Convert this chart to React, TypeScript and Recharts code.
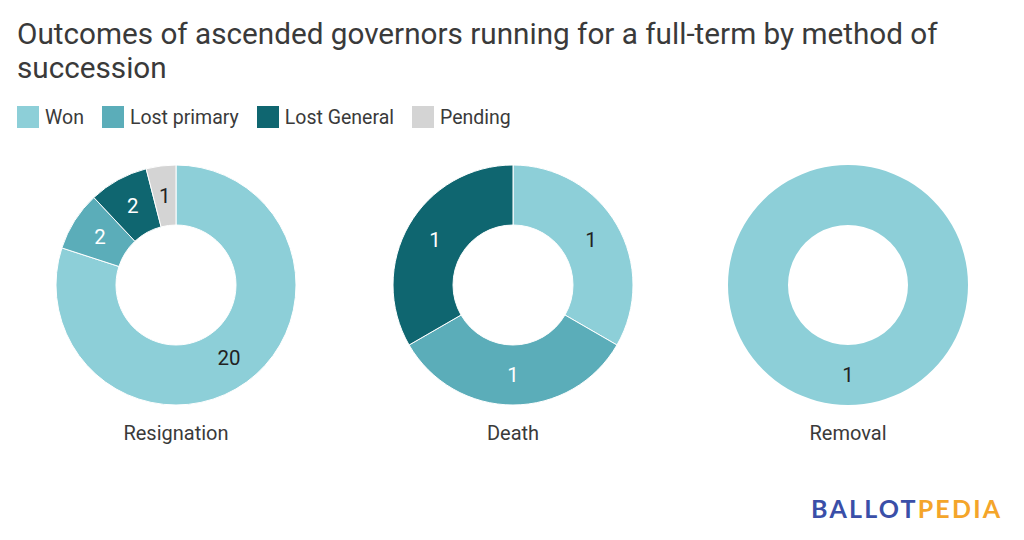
import React from 'react';
import { PieChart, Pie, Cell } from 'recharts';

const categories = ['Won', 'Lost primary', 'Lost General', 'Pending'];
const colors = ['#8dcfd8', '#5badb9', '#0f6670', '#d4d4d4'];
const labelColors = ['#222222', '#ffffff', '#ffffff', '#222222'];

const groups = ['Resignation', 'Death', 'Removal'];
const resignationValues = [20, 2, 2, 1];
const deathValues = [1, 1, 1, 0];
const removalValues = [1, 0, 0, 0];
const groupValues = [resignationValues, deathValues, removalValues];

const centersX = [176, 513, 848];
const centerY = 285;

const RADIAN = Math.PI / 180;

const buildData = (values: number[]) =>
  categories
    .map((name, i) => ({ name, value: values[i], idx: i }))
    .filter((d) => d.value > 0);

const renderLabel = (props: any) => {
  const { cx, cy, midAngle, innerRadius, outerRadius, value, payload } = props;
  const r = (innerRadius + outerRadius) / 2;
  const x = cx + r * Math.cos(-midAngle * RADIAN);
  const y = cy + r * Math.sin(-midAngle * RADIAN);
  const idx = payload?.idx ?? props.idx ?? 0;
  return (
    <text
      x={x}
      y={y}
      fill={labelColors[idx]}
      textAnchor="middle"
      dominantBaseline="central"
      fontSize={20.5}
      fontFamily="Roboto"
    >
      {value}
    </text>
  );
};

export default function App() {
  return (
    <div
      style={{
        position: 'absolute',
        left: 0,
        top: 0,
        width: 1024,
        height: 540,
        background: '#fff',
        fontFamily: 'Roboto',
      }}
    >
      <div
        style={{
          position: 'absolute',
          left: 17,
          top: 17,
          fontSize: 29.7,
          lineHeight: '34px',
          color: '#3a3a3a',
          width: 1000,
        }}
      >
        Outcomes of ascended governors running for a full-term by method of
        <br />
        succession
      </div>
      <div
        style={{
          position: 'absolute',
          left: 17,
          top: 106,
          height: 22,
          display: 'flex',
          alignItems: 'center',
          fontSize: 19.5,
          color: '#3a3a3a',
        }}
      >
        {categories.map((c, i) => (
          <div key={c} style={{ display: 'flex', alignItems: 'center', marginRight: 18 }}>
            <div style={{ width: 22, height: 22, background: colors[i], marginRight: 6 }} />
            <span>{c}</span>
          </div>
        ))}
      </div>
      <div style={{ position: 'absolute', left: 0, top: 0 }}>
        <PieChart width={1024} height={540} margin={{ top: 0, right: 0, bottom: 0, left: 0 }}>
          {groupValues.map((vals, g) => {
            const data = buildData(vals);
            const single = data.length === 1;
            return (
              <Pie
                key={groups[g]}
                data={data}
                dataKey="value"
                nameKey="name"
                cx={centersX[g]}
                cy={centerY}
                innerRadius={60}
                outerRadius={120}
                startAngle={90}
                endAngle={-270}
                stroke={single ? 'none' : '#ffffff'}
                strokeWidth={1}
                label={renderLabel}
                labelLine={false}
                isAnimationActive={false}
              >
                {data.map((d) => (
                  <Cell key={d.name} fill={colors[d.idx]} />
                ))}
              </Pie>
            );
          })}
        </PieChart>
      </div>
      {groups.map((g, i) => (
        <div
          key={g}
          style={{
            position: 'absolute',
            left: centersX[i] - 100,
            width: 200,
            top: 419,
            textAlign: 'center',
            fontSize: 20,
            lineHeight: '28px',
            color: '#3a3a3a',
          }}
        >
          {g}
        </div>
      ))}
      <div
        style={{
          position: 'absolute',
          left: 811,
          top: 493,
          fontFamily: 'Lato',
          fontWeight: 700,
          fontSize: 25,
          letterSpacing: 2.2,
          lineHeight: '30px',
        }}
      >
        <span style={{ color: '#3a4fa8' }}>BALLOT</span>
        <span style={{ color: '#f4a52a' }}>PEDIA</span>
      </div>
    </div>
  );
}
